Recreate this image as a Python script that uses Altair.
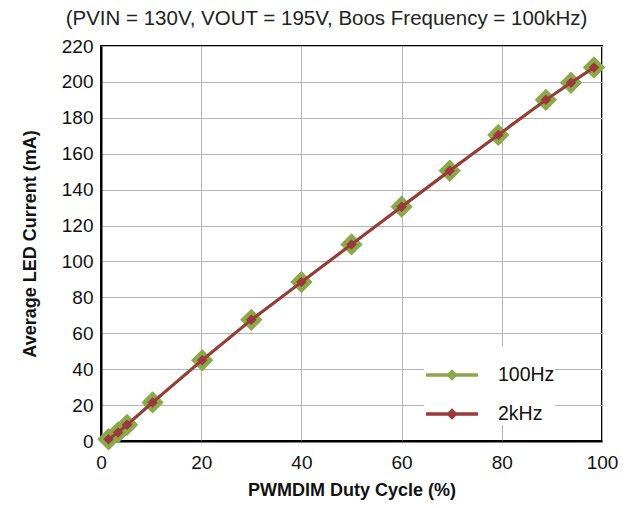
import altair as alt
import pandas as pd

duty = [1.5, 3.4, 5.2, 10.3, 20.2, 30.0, 40.0, 50.0, 60.0, 69.6, 79.3, 88.8, 93.8, 98.4]
i_100hz = [1.0, 4.8, 9.0, 21.5, 45.0, 67.5, 88.5, 109.5, 130.5, 150.5, 170.5, 190.0, 199.5, 208.0]
i_2khz = [1.0, 4.8, 9.0, 21.5, 45.0, 67.5, 88.5, 109.5, 130.5, 150.5, 170.5, 190.0, 199.5, 208.0]
series = ["100Hz", "2kHz"]
colors = ["#8BA84A", "#9B3A3A"]
sizes = [500, 110]

rows = []
for k, (name, vals) in enumerate(zip(series, [i_100hz, i_2khz])):
    for d, v in zip(duty, vals):
        rows.append({"duty": d, "current": v, "series": name, "ord": k})
df = pd.DataFrame(rows)

FONT = "Liberation Sans"

xaxis = alt.Axis(values=[0, 20, 40, 60, 80, 100], title="PWMDIM Duty Cycle (%)",
                 titlePadding=9, labelFlush=False, labelOverlap=False, labelPadding=12)
yaxis = alt.Axis(values=list(range(0, 221, 20)), title="Average LED Current (mA)",
                 titlePadding=22, labelOverlap=False, labelFlush=False)
xenc = alt.X("duty:Q", scale=alt.Scale(domain=[0, 100]), axis=xaxis)
yenc = alt.Y("current:Q", scale=alt.Scale(domain=[0, 220]), axis=yaxis)
color = alt.Color("series:N", scale=alt.Scale(domain=series, range=colors),
                  legend=alt.Legend(title=None, orient="none", legendX=323, legendY=301,
                                    symbolType="M-1,0L1,0M0,-0.13L0.13,0L0,0.13L-0.13,0Z",
                                    symbolSize=2704, symbolStrokeWidth=3.5,
                                    labelFontSize=19.5, labelFont=FONT, labelColor="#111",
                                    labelOffset=18, rowPadding=-14,
                                    fillColor="white", padding=0))

layers = []
for k, name in enumerate(series):
    sub = df[df["series"] == name]
    layers.append(alt.Chart(sub).mark_line(strokeWidth=3).encode(
        x=xenc, y=yenc, color=color))
    layers.append(alt.Chart(sub).mark_point(shape="diamond", filled=True, opacity=1,
                                            color=colors[k], size=sizes[k]).encode(
        x=xenc, y=yenc))

chart = alt.layer(*layers).properties(
    width=501, height=395,
    padding={"left": 93, "top": 38, "right": 17, "bottom": 62},
    autosize=alt.AutoSizeParams(type="none"),
    title=alt.TitleParams("(PVIN = 130V, VOUT = 195V, Boos Frequency = 100kHz)",
                          fontSize=20.5, font=FONT, fontWeight="normal", color="#222",
                          anchor="middle", frame="group", dx=-25, offset=8),
).configure_view(stroke="black", strokeWidth=2).configure_axis(
    labelFont=FONT, labelFontSize=19, labelColor="#111",
    titleFont=FONT, titleFontSize=18, titleFontWeight="bold", titleColor="#111",
    gridColor="#b4b4b4", gridWidth=1, domainColor="black", domainWidth=2,
    ticks=False, labelPadding=8,
)

chart.save("out.html", embed_options={"renderer": "svg", "actions": False})
